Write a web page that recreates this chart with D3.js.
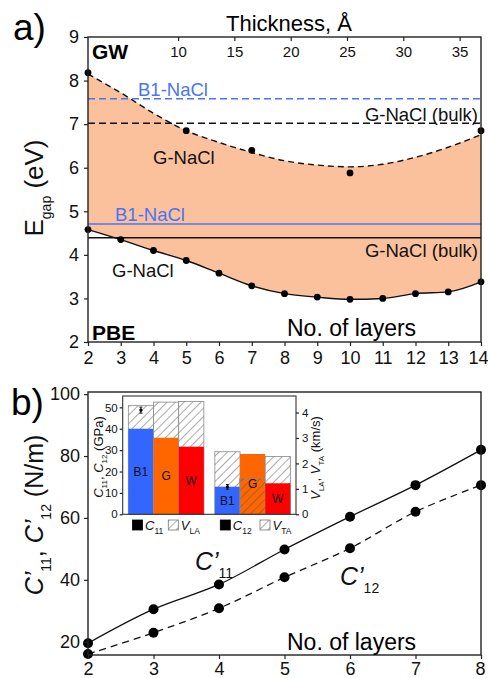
<!DOCTYPE html>
<html>
<head>
<meta charset="utf-8">
<script src="https://cdn.jsdelivr.net/npm/d3@7"></script>
<style>
  body { margin: 0; background: #fff; }
  svg { display: block; font-family: "Liberation Sans", Arial, sans-serif; }
</style>
</head>
<body>
<div id="chart"></div>
<script>
// panel a - band gap vs number of layers
const layers = [2, 3, 4, 5, 6, 7, 8, 9, 10, 11, 12, 13, 14];
const pbeGap = [4.58, 4.35, 4.10, 3.87, 3.58, 3.29, 3.11, 3.03, 2.98, 3.00, 3.11, 3.15, 3.38];
const gwFit = [8.15, 7.72, 7.25, 6.85, 6.58, 6.35, 6.16, 6.06, 6.02, 6.08, 6.24, 6.47, 6.76];
const gwLayers = [2, 5, 7, 10, 14];
const gwGap = [8.18, 6.85, 6.40, 5.88, 6.85];
const thicknessTicks = [10, 15, 20, 25, 30, 35];
const gapTicks = [2, 3, 4, 5, 6, 7, 8, 9];
const bulkGW = [7.58, 7.02];   // B1, G (bulk)
const bulkPBE = [4.71, 4.39];  // B1, G (bulk)

// panel b - 2D elastic constants
const elLayers = [2, 3, 4, 5, 6, 7, 8];
const c11 = [19.5, 30.5, 38.5, 49.8, 60.4, 70.6, 82.0];
const c12 = [16.0, 22.9, 30.8, 40.8, 50.2, 62.0, 70.6];
const elTicks = [20, 40, 60, 80, 100];

// inset - bulk phases
const phases = ['B1', 'G', 'W'];
const bulkC11 = [40.0, 35.8, 31.6];
const bulkC12 = [12.9, 28.2, 14.5];
const vLA = [4.27, 4.41, 4.43];
const vTA = [2.46, 1.42, 2.27];
const expC11 = [48.7, 1.4];  // B1 experiment: value, error
const expC12 = [12.8, 1.1];
const cTicks = [0, 10, 20, 30, 40, 50];
const vTicks = [0, 1, 2, 3, 4];

const phaseColor = { B1: '#3366ff', G: '#ff6600', W: '#ff0000' };
const blueLine = '#4a74f4';

const svg = d3.select('#chart').append('svg')
    .attr('width', 488)
    .attr('height', 678);

const defs = svg.append('defs');
defs.append('pattern')
    .attr('id', 'hatch')
    .attr('patternUnits', 'userSpaceOnUse')
    .attr('width', 6)
    .attr('height', 6)
    .attr('patternTransform', 'rotate(45)')
    .append('line')
    .attr('x1', 0).attr('y1', 0).attr('x2', 0).attr('y2', 6)
    .attr('stroke', '#555')
    .attr('stroke-width', 1);

// text with italic / subscript pieces
function richText(g, parts, size, subSize) {
    const t = g.append('text').attr('font-size', size).attr('fill', '#111');
    let off = 0;
    parts.forEach(p => {
        const shift = p.sub ? size * 0.3 : 0;
        const s = t.append('tspan').text(p.t).attr('dy', shift - off);
        if (p.sub) s.attr('font-size', subSize);
        if (p.i) s.attr('font-style', 'italic');
        off = shift;
    });
    return t;
}

function styleAxis(g, size) {
    g.select('.domain').remove();
    g.selectAll('.tick line').attr('stroke', '#222').attr('stroke-width', 1.2);
    g.selectAll('.tick text').attr('font-size', size).attr('fill', '#111');
}

// last tick label sits against the page edge
function pullLastLabel(g, dx) {
    const texts = g.selectAll('.tick text').nodes();
    d3.select(texts[texts.length - 1]).attr('dx', dx);
}

// ---------- panel a ----------
const a = { left: 88, right: 481, top: 37, bottom: 342 };
const xA = d3.scaleLinear().domain([2, 14]).range([a.left, a.right]);
const xThick = d3.scaleLinear().domain([2, 36.9]).range([a.left, a.right]);
const yA = d3.scaleLinear().domain([2, 9]).range([a.bottom, a.top]);

const gapRows = layers.map((n, i) => ({ n, pbe: pbeGap[i], gw: gwFit[i] }));

svg.append('path')
    .datum(gapRows)
    .attr('fill', '#fbc19c')
    .attr('d', d3.area()
        .x(d => xA(d.n))
        .y0(d => yA(d.pbe))
        .y1(d => yA(d.gw))
        .curve(d3.curveMonotoneX));

// bulk reference lines
const refs = [
    { v: bulkGW[0], color: blueLine, dash: '7,4' },
    { v: bulkGW[1], color: '#111', dash: '7,4' },
    { v: bulkPBE[0], color: blueLine, dash: null },
    { v: bulkPBE[1], color: '#111', dash: null }
];
svg.append('g').selectAll('line')
    .data(refs)
    .enter()
    .append('line')
    .attr('x1', a.left).attr('x2', a.right)
    .attr('y1', d => yA(d.v)).attr('y2', d => yA(d.v))
    .attr('stroke', d => d.color)
    .attr('stroke-width', 1.5)
    .attr('stroke-dasharray', d => d.dash);

svg.append('path')
    .datum(gapRows)
    .attr('fill', 'none')
    .attr('stroke', '#111')
    .attr('stroke-width', 1.4)
    .attr('stroke-dasharray', '6,4')
    .attr('d', d3.line().x(d => xA(d.n)).y(d => yA(d.gw)).curve(d3.curveMonotoneX));

svg.append('path')
    .datum(gapRows)
    .attr('fill', 'none')
    .attr('stroke', '#111')
    .attr('stroke-width', 1.4)
    .attr('d', d3.line().x(d => xA(d.n)).y(d => yA(d.pbe)).curve(d3.curveMonotoneX));

svg.append('g').selectAll('circle')
    .data(gapRows)
    .enter()
    .append('circle')
    .attr('cx', d => xA(d.n))
    .attr('cy', d => yA(d.pbe))
    .attr('r', 3.4)
    .attr('fill', '#000');

svg.append('g').selectAll('circle')
    .data(gwLayers.map((n, i) => ({ n, v: gwGap[i] })))
    .enter()
    .append('circle')
    .attr('cx', d => xA(d.n))
    .attr('cy', d => yA(d.v))
    .attr('r', 3.4)
    .attr('fill', '#000');

svg.append('rect')
    .attr('x', a.left).attr('y', a.top)
    .attr('width', a.right - a.left).attr('height', a.bottom - a.top)
    .attr('fill', 'none').attr('stroke', '#222').attr('stroke-width', 1.4);

svg.append('g')
    .attr('transform', `translate(0,${a.bottom})`)
    .call(d3.axisBottom(xA).tickValues(layers).tickSize(4).tickPadding(5).tickFormat(d3.format('d')))
    .call(g => styleAxis(g, 18))
    .call(g => pullLastLabel(g, -3));

svg.append('g')
    .attr('transform', `translate(0,${a.top})`)
    .call(d3.axisBottom(xThick).tickValues(thicknessTicks).tickSize(4).tickPadding(5))
    .call(g => styleAxis(g, 15));

svg.append('g')
    .attr('transform', `translate(${a.left},0)`)
    .call(d3.axisLeft(yA).tickValues(gapTicks).tickSize(4).tickPadding(5).tickFormat(d3.format('d')))
    .call(g => styleAxis(g, 18));

// panel a labels
const labA = svg.append('g').attr('font-size', 18.5).attr('fill', '#111');
labA.append('text').attr('x', 138).attr('y', yA(bulkGW[0]) - 3).attr('fill', blueLine).text('B1-NaCl');
labA.append('text').attr('x', 478).attr('y', yA(bulkGW[1]) - 2).attr('text-anchor', 'end').text('G-NaCl (bulk)');
labA.append('text').attr('x', 153).attr('y', 164).text('G-NaCl');
labA.append('text').attr('x', 115).attr('y', yA(bulkPBE[0]) - 3).attr('fill', blueLine).text('B1-NaCl');
labA.append('text').attr('x', 478).attr('y', yA(bulkPBE[1]) + 19).attr('text-anchor', 'end').text('G-NaCl (bulk)');
labA.append('text').attr('x', 112).attr('y', 277).text('G-NaCl');

svg.append('text').attr('x', 92).attr('y', 59).attr('font-size', 21).attr('font-weight', 'bold').text('GW');
svg.append('text').attr('x', 92).attr('y', 340).attr('font-size', 21).attr('font-weight', 'bold').text('PBE');
svg.append('text').attr('x', 287).attr('y', 336).attr('font-size', 23).text('No. of layers');
svg.append('text').attr('x', 226).attr('y', 31).attr('font-size', 22).text('Thickness, Å');
svg.append('text').attr('x', 13).attr('y', 40).attr('font-size', 37).text('a)');

richText(svg.append('g').attr('transform', 'translate(43,188) rotate(-90)'),
    [{ t: 'E' }, { t: 'gap', sub: true }, { t: ' (eV)' }], 26, 14)
    .attr('text-anchor', 'middle');

// ---------- panel b ----------
const b = { left: 88, right: 481, top: 392, bottom: 655 };
const xB = d3.scaleLinear().domain([2, 8]).range([b.left, b.right]);
const yB = d3.scaleLinear().domain([15.7, 100.7]).range([b.bottom, b.top]);

const elRows = elLayers.map((n, i) => ({ n, c11: c11[i], c12: c12[i] }));

svg.append('path')
    .datum(elRows)
    .attr('fill', 'none').attr('stroke', '#111').attr('stroke-width', 1.3)
    .attr('d', d3.line().x(d => xB(d.n)).y(d => yB(d.c11)).curve(d3.curveCatmullRom));

svg.append('path')
    .datum(elRows)
    .attr('fill', 'none').attr('stroke', '#111').attr('stroke-width', 1.3)
    .attr('stroke-dasharray', '7,5')
    .attr('d', d3.line().x(d => xB(d.n)).y(d => yB(d.c12)).curve(d3.curveCatmullRom));

['c11', 'c12'].forEach(k => {
    svg.append('g').selectAll('circle')
        .data(elRows)
        .enter()
        .append('circle')
        .attr('cx', d => xB(d.n))
        .attr('cy', d => yB(d[k]))
        .attr('r', 5)
        .attr('fill', '#000');
});

svg.append('rect')
    .attr('x', b.left).attr('y', b.top)
    .attr('width', b.right - b.left).attr('height', b.bottom - b.top)
    .attr('fill', 'none').attr('stroke', '#222').attr('stroke-width', 1.4);

svg.append('g')
    .attr('transform', `translate(0,${b.bottom})`)
    .call(d3.axisBottom(xB).tickValues(elLayers).tickSize(4).tickPadding(3).tickFormat(d3.format('d')))
    .call(g => styleAxis(g, 18))
    .call(g => pullLastLabel(g, -1));

svg.append('g')
    .attr('transform', `translate(${b.left},0)`)
    .call(d3.axisLeft(yB).tickValues(elTicks).tickSize(4).tickPadding(4))
    .call(g => styleAxis(g, 18));

richText(svg.append('g').attr('transform', 'translate(195,570)'),
    [{ t: 'C’', i: true }, { t: '11', sub: true }], 25, 14);
richText(svg.append('g').attr('transform', 'translate(340,585)'),
    [{ t: 'C’', i: true }, { t: '12', sub: true }], 25, 14);
svg.append('text').attr('x', 287).attr('y', 650).attr('font-size', 23).text('No. of layers');
svg.append('text').attr('x', 11).attr('y', 415).attr('font-size', 37).text('b)');

richText(svg.append('g').attr('transform', 'translate(43,515) rotate(-90)'),
    [{ t: 'C’', i: true }, { t: '11', sub: true }, { t: ', ' }, { t: 'C’', i: true }, { t: '12', sub: true }, { t: ' (N/m)' }], 25, 14)
    .attr('text-anchor', 'middle');

// ---------- inset ----------
const ins = { left: 122.7, right: 296, top: 396, bottom: 514.3 };
const gx = d3.scaleBand().domain(['C11', 'C12']).range([ins.left, ins.right])
    .paddingInner(0.127).paddingOuter(0.065);
const px = d3.scaleBand().domain(phases).range([0, gx.bandwidth()]);
const yC = d3.scaleLinear().domain([0, 55.3]).range([ins.bottom, ins.top]);
const yV = d3.scaleLinear().domain([0, 4.65]).range([ins.bottom, ins.top]);

svg.append('rect')
    .attr('x', ins.left).attr('y', ins.top)
    .attr('width', ins.right - ins.left).attr('height', ins.bottom - ins.top)
    .attr('fill', '#fff');

const barRows = [];
phases.forEach((p, i) => {
    barRows.push({ group: 'C11', phase: p, c: bulkC11[i], v: vLA[i] });
    barRows.push({ group: 'C12', phase: p, c: bulkC12[i], v: vTA[i] });
});

const bars = svg.append('g');
barRows.forEach(d => {
    const bx = gx(d.group) + px(d.phase);
    const bw = px.bandwidth();
    const hatchBar = () => bars.append('rect')
        .attr('x', bx).attr('y', yV(d.v))
        .attr('width', bw).attr('height', ins.bottom - yV(d.v));
    // hatched velocity bar behind
    hatchBar().attr('fill', '#fff');
    hatchBar().attr('fill', 'url(#hatch)').attr('stroke', '#888').attr('stroke-width', 0.8);
    bars.append('rect')
        .attr('x', bx).attr('y', yC(d.c))
        .attr('width', bw).attr('height', ins.bottom - yC(d.c))
        .attr('fill', phaseColor[d.phase]);
    // velocity shorter than the constant: hatch shows on top
    if (yV(d.v) > yC(d.c)) {
        hatchBar().attr('fill', 'url(#hatch)').attr('stroke', '#888').attr('stroke-width', 0.8);
    }
    bars.append('text')
        .attr('x', bx + bw / 2)
        .attr('y', (yC(d.c) + ins.bottom) / 2 + 4)
        .attr('text-anchor', 'middle')
        .attr('font-size', 12)
        .attr('fill', '#111')
        .text(d.phase);
});

// experimental points for B1
[['C11', expC11], ['C12', expC12]].forEach(([grp, e]) => {
    const cx = gx(grp) + px('B1') + px.bandwidth() / 2;
    const eb = svg.append('g').attr('stroke', '#111').attr('stroke-width', 1);
    eb.append('line').attr('x1', cx).attr('x2', cx).attr('y1', yC(e[0] - e[1])).attr('y2', yC(e[0] + e[1]));
    eb.append('line').attr('x1', cx - 1.5).attr('x2', cx + 1.5).attr('y1', yC(e[0] - e[1])).attr('y2', yC(e[0] - e[1]));
    eb.append('line').attr('x1', cx - 1.5).attr('x2', cx + 1.5).attr('y1', yC(e[0] + e[1])).attr('y2', yC(e[0] + e[1]));
    svg.append('circle').attr('cx', cx).attr('cy', yC(e[0])).attr('r', 1.6).attr('fill', '#000');
});

svg.append('rect')
    .attr('x', ins.left).attr('y', ins.top)
    .attr('width', ins.right - ins.left).attr('height', ins.bottom - ins.top)
    .attr('fill', 'none').attr('stroke', '#333').attr('stroke-width', 1.1);

svg.append('g')
    .attr('transform', `translate(${ins.left},0)`)
    .call(d3.axisLeft(yC).tickValues(cTicks).tickSize(3).tickPadding(2))
    .call(g => styleAxis(g, 11.5));

svg.append('g')
    .attr('transform', `translate(${ins.right},0)`)
    .call(d3.axisRight(yV).tickValues(vTicks).tickSize(3).tickPadding(3).tickFormat(d3.format('d')))
    .call(g => styleAxis(g, 11.5));

richText(svg.append('g').attr('transform', 'translate(103,457) rotate(-90)'),
    [{ t: 'C', i: true }, { t: '11', sub: true }, { t: ', ' }, { t: 'C', i: true }, { t: '12', sub: true }, { t: ' (GPa)' }], 13, 8)
    .attr('text-anchor', 'middle');
richText(svg.append('g').attr('transform', 'translate(320,458) rotate(-90)'),
    [{ t: 'V', i: true }, { t: 'LA', sub: true }, { t: ', ' }, { t: 'V', i: true }, { t: 'TA', sub: true }, { t: ' (km/s)' }], 13, 8)
    .attr('text-anchor', 'middle');

// inset legend
const legendItems = [
    { x: 132.5, hatch: false, sym: 'C', sub: '11' },
    { x: 168.3, hatch: true, sym: 'V', sub: 'LA' },
    { x: 220.3, hatch: false, sym: 'C', sub: '12' },
    { x: 260, hatch: true, sym: 'V', sub: 'TA' }
];
legendItems.forEach(d => {
    const g = svg.append('g').attr('transform', `translate(${d.x},520)`);
    g.append('rect').attr('width', 10).attr('height', 10)
        .attr('fill', d.hatch ? 'url(#hatch)' : '#000')
        .attr('stroke', d.hatch ? '#777' : '#000')
        .attr('stroke-width', 0.8);
    richText(g.append('g').attr('transform', 'translate(12.5,10)'),
        [{ t: d.sym, i: true }, { t: d.sub, sub: true }], 13, 8.5);
});
</script>
</body>
</html>
